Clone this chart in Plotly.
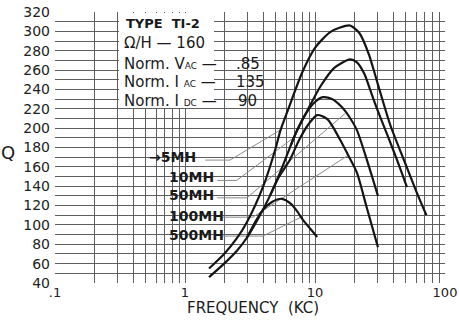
import plotly.graph_objects as go

# ---------------- data (frequency in kc, Q) ----------------
a_f = [1.53, 2, 2.5, 3, 4, 5, 5.4, 6.2, 8, 10, 13, 15.6, 18.6, 22, 26, 30.5, 38, 49, 60, 72]
a_q = [55, 70, 86, 103, 140, 180, 197, 219, 258, 283, 299, 304, 306, 298, 276, 245, 203, 165, 135, 110]

b_f = [1.53, 2, 2.5, 3, 3.7, 4.5, 5.5, 6.5, 7.3, 8.8, 11, 14, 18.6, 21, 24, 26.5, 30, 36, 42.8, 51]
b_q = [46, 60, 73, 87, 108, 130, 157, 182, 198, 219, 243, 262, 271, 268, 256, 240, 220, 193, 167, 139]

c_f = [6.5, 7.3, 8.5, 10, 11.5, 13.5, 16, 18.5, 21, 25.1, 30.5]
c_q = [182, 198, 215, 227, 232, 230, 222, 211, 198, 167, 130]

d_f = [4.5, 5.2, 6.4, 7.5, 8.8, 10.4, 12.5, 15.6, 18, 21, 25, 30.5]
d_q = [130, 148, 167, 187, 203, 213.5, 209, 188, 172, 154, 118, 77]

e_f = [3.0, 3.5, 4.0, 4.7, 5.57, 6.5, 7.3, 8.1, 9.2, 10.4]
e_q = [87, 104, 116, 124, 127, 122, 114, 105, 96, 87.5]

# leader lines from the inductance labels to their curves
lead_5_f, lead_5_q = [1.43, 2.22, 5.4], [167, 167, 198]
lead_10_f, lead_10_q = [1.77, 2.5, 7.0], [146, 146, 191]
lead_50_f, lead_50_q = [1.77, 3.0, 17], [128, 128, 215]
lead_100_f, lead_100_q = [1.96, 3.33, 18], [108, 108, 172]
lead_500_f, lead_500_q = [1.96, 3.98, 7.8], [88.5, 88.5, 108]

curve_labels = ["→5MH", "10MH", "50MH", "100MH", "500MH"]
x_tick_labels = {0.1: ".1", 1: "1", 10: "10", 100: "100"}
y_ticks = list(range(40, 321, 10))

# ---------------- figure ----------------
W, H = 459, 324
L, R, T, B = 55, 14, 12, 41
PW, PH = W - L - R, H - T - B


def px(xp):
    return (xp - L) / PW


def py(yp):
    return (H - B - yp) / PH


FONT = "DejaVu Sans"
fig = go.Figure()

for f, q in [(lead_5_f, lead_5_q), (lead_10_f, lead_10_q), (lead_50_f, lead_50_q),
             (lead_100_f, lead_100_q), (lead_500_f, lead_500_q)]:
    fig.add_trace(go.Scatter(x=f, y=q, mode="lines", line=dict(color="#8a8a8a", width=1),
                             hoverinfo="skip", showlegend=False))

for f, q in [(a_f, a_q), (b_f, b_q), (c_f, c_q), (d_f, d_q), (e_f, e_q)]:
    fig.add_trace(go.Scatter(x=f, y=q, mode="lines",
                             line=dict(color="#151515", width=2.2, shape="spline", smoothing=0.7),
                             showlegend=False))

xt = []
for dec in [0.1, 1, 10]:
    for m in range(1, 10):
        xt.append(round(dec * m, 6))
xt.append(100)
xtext = [x_tick_labels.get(v, "") for v in xt]

fig.update_xaxes(type="log", range=[-1, 2], tickvals=xt, ticktext=xtext, automargin=False,
                 showgrid=True, gridcolor="#5e5e5e", gridwidth=1, zeroline=False,
                 ticks="", showline=False,
                 tickfont=dict(family=FONT, size=13, color="#222"))
fig.update_yaxes(range=[40, 320], tickvals=y_ticks, automargin=False,
                 ticktext=[str(v) if v % 20 == 0 else "" for v in y_ticks],
                 showgrid=True, gridcolor="#5e5e5e", gridwidth=1, zeroline=False,
                 ticks="", showline=False, ticklabelstandoff=4,
                 tickfont=dict(family=FONT, size=14, color="#222"))

# white info box
fig.add_shape(type="rect", xref="paper", yref="paper", x0=px(119), x1=px(214),
              y0=py(108), y1=py(13), fillcolor="white", line=dict(width=0), layer="above")

ann = []


def text(xp, yp, s, size=15, anchor="left"):
    ann.append(dict(xref="paper", yref="paper", x=px(xp), y=py(yp), text=s, showarrow=False,
                    xanchor=anchor, yanchor="middle",
                    font=dict(family=FONT, size=size, color="#1a1a1a")))


sm = "<span style='font-size:9px'>%s</span>"
text(124, 24, "<b>TYPE  TI-2</b>", 13)
text(122, 43, "Ω/H — 160", 15)
text(122, 64, "Norm. V" + sm % "AC" + " —", 15)
text(122, 82, "Norm. I " + sm % "AC" + " —", 15)
text(122, 101, "Norm. I " + sm % "DC" + " —", 15)
text(234, 64, ".85", 15)
text(234, 82, "135", 15)
text(236, 101, "90", 15)

label_pos = [(147, 157), (167, 177), (167, 195), (167, 216), (167, 235)]
for s, (xp, yp) in zip(curve_labels, label_pos):
    text(xp, yp, "<b>" + s + "</b>", 14)

text(253, 308, "FREQUENCY  (KC)", 15, anchor="center")
text(8, 152, "Q", 18, anchor="center")

fig.update_layout(width=W, height=H, margin=dict(l=L, r=R, t=T, b=B),
                  paper_bgcolor="white", plot_bgcolor="white", annotations=ann,
                  showlegend=False)

fig.write_html("out.html", config={"displayModeBar": False},
               post_script="document.body.style.margin='0';")
